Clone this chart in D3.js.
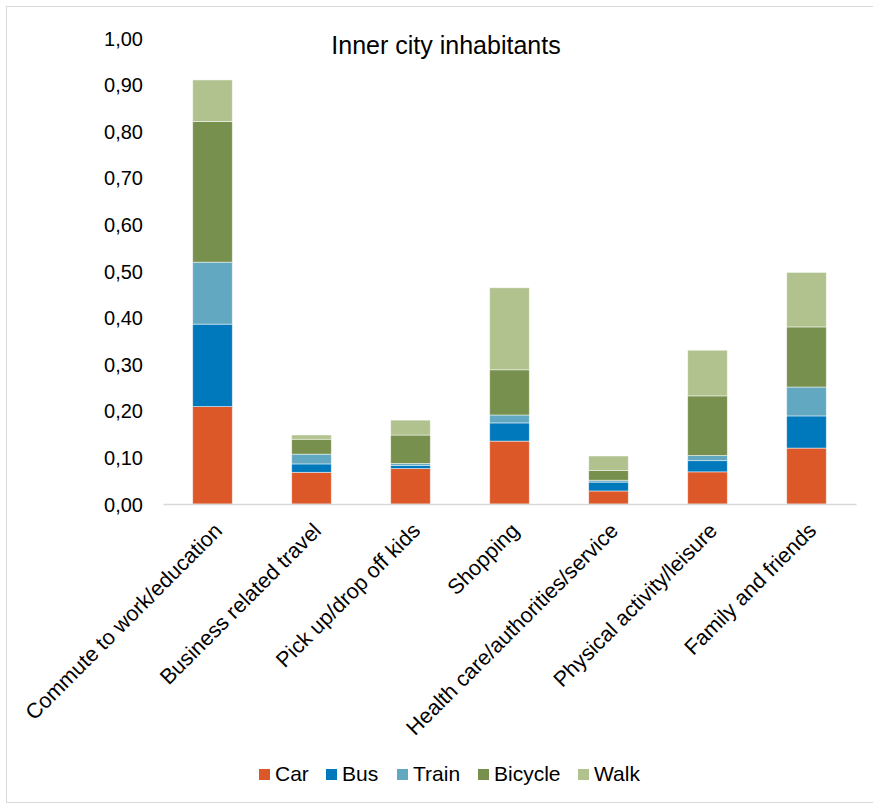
<!DOCTYPE html>
<html><head><meta charset="utf-8">
<script src="https://cdn.jsdelivr.net/npm/d3@7"></script>
<style>body{margin:0;background:#fff}svg{display:block}text{font-family:"Liberation Sans",Arial,sans-serif;fill:#000}</style>
</head><body><svg id="c" width="873" height="807"></svg>
<script>
const categories = ["Commute to work/education","Business related travel","Pick up/drop off kids","Shopping","Health care/authorities/service","Physical activity/leisure","Family and friends"];
const seriesNames = ["Car","Bus","Train","Bicycle","Walk"];
const seriesColors = ["#DD5829","#0078BC","#62A8C0","#78904D","#B1C28E"];
const car     = [0.209,0.068,0.076,0.135,0.028,0.069,0.120];
const bus     = [0.177,0.018,0.007,0.039,0.019,0.024,0.069];
const train   = [0.133,0.021,0.004,0.017,0.004,0.011,0.062];
const bicycle = [0.302,0.032,0.061,0.097,0.021,0.128,0.129];
const walk    = [0.089,0.009,0.032,0.176,0.031,0.098,0.117];
const yTicks  = [0,0.1,0.2,0.3,0.4,0.5,0.6,0.7,0.8,0.9,1.0];
const title = "Inner city inhabitants";

const seriesValues = [car,bus,train,bicycle,walk];
const rows = categories.map((c,i)=>{const r={cat:c};seriesNames.forEach((s,j)=>r[s]=seriesValues[j][i]);return r;});
const stack = d3.stack().keys(seriesNames)(rows);

const svg = d3.select("#c");
svg.append("rect").attr("x",6.5).attr("y",6.5).attr("width",873).attr("height",796).attr("fill","none").attr("stroke","#d9d9d9");

const x = d3.scaleBand().domain(categories).range([163,856]).paddingInner(0.6).paddingOuter(0.3);
const y = d3.scaleLinear().domain([0,1]).range([504,38]);

svg.append("text").attr("x",446).attr("y",54).attr("text-anchor","middle").style("font-size","25px").text(title);

const fmt = v=>d3.format(".2f")(v).replace(".",",");
const ya = svg.append("g").attr("transform","translate(143,0)").call(d3.axisLeft(y).tickValues(yTicks).tickFormat(fmt).tickSize(0).tickPadding(0));
ya.select(".domain").remove();
ya.selectAll("text").style("font-size","20px").attr("font-family",null).attr("dy","0.35em");

const color = d3.scaleOrdinal().domain(seriesNames).range(seriesColors);
svg.append("g").selectAll("g").data(stack).join("g").attr("fill",d=>color(d.key))
 .selectAll("rect").data(d=>d).join("rect")
 .attr("x",d=>x(d.data.cat)).attr("width",x.bandwidth())
 .attr("y",d=>y(d[1])).attr("height",d=>y(d[0])-y(d[1]))
 .attr("stroke","rgba(255,255,255,0.6)").attr("stroke-width",0.8);

const xa = svg.append("g").attr("transform","translate(0,504)").call(d3.axisBottom(x).tickSize(0).tickPadding(0));
xa.select(".domain").attr("stroke","#d9d9d9").attr("stroke-width",1.5);
xa.selectAll("text").style("font-size","21.5px").attr("font-family",null)
  .attr("text-anchor","end").attr("dy",null).attr("y",0)
  .attr("transform","translate(11,28) rotate(-45)");

const lg = svg.append("g");
const lx = [259,326,397,478,578];
seriesNames.forEach((s,i)=>{
  lg.append("rect").attr("x",lx[i]).attr("y",769).attr("width",11).attr("height",11).attr("fill",seriesColors[i]);
  lg.append("text").attr("x",lx[i]+16).attr("y",781).style("font-size","21px").text(s);
});
</script></body></html>
